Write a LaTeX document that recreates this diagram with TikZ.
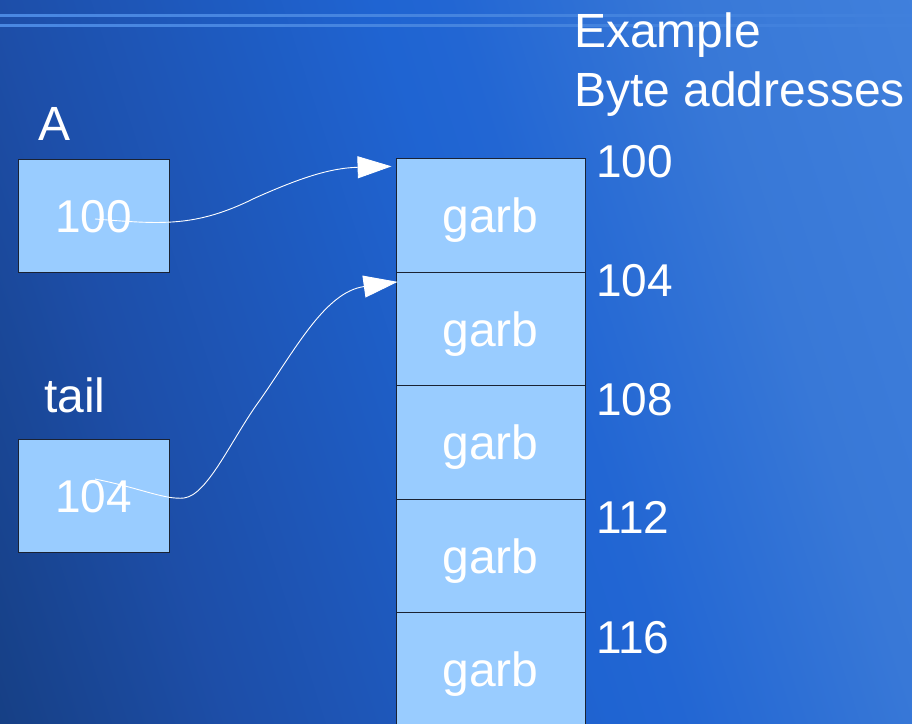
\documentclass[tikz,border=0pt]{standalone}
\usepackage{fontspec}
\setmainfont{Liberation Sans}
\usetikzlibrary{arrows.meta}

\definecolor{cellfill}{HTML}{99CCFF}
\definecolor{cellline}{HTML}{1A2233}
\definecolor{bgDark}{HTML}{163F84}
\definecolor{bgDeep}{HTML}{1D4EA8}
\definecolor{bgMid}{HTML}{1F64D2}
\definecolor{bgMidB}{HTML}{2266D3}
\definecolor{bgPale}{HTML}{3878D7}
\definecolor{bgLight}{HTML}{4080DC}
\definecolor{rule}{HTML}{4A88E2}

% background gradient stops along the slide diagonal
\pgfdeclarehorizontalshading{slidebg}{100bp}{%
  color(0bp)=(bgDark); color(25bp)=(bgDark); color(35bp)=(bgDeep);
  color(51bp)=(bgMid); color(54bp)=(bgMidB); color(64bp)=(bgPale);
  color(74bp)=(bgLight); color(100bp)=(bgLight)}

\tikzset{
  bigtext/.style={font=\fontsize{46}{50}\selectfont, text=white},
  wordtext/.style={font=\fontsize{48}{52}\selectfont, text=white},
  label/.style={bigtext, inner sep=0pt, anchor=base west},
  heading/.style={wordtext, inner sep=0pt, anchor=base west},
  wordbox/.style={draw=cellline, line width=0.8pt, fill=cellfill, bigtext,
    minimum width=151pt, minimum height=113pt, inner sep=0pt,
    text height=33pt, text depth=0pt},
  cell/.style={draw=cellline, line width=0.8pt, fill=cellfill, wordtext,
    minimum width=189pt, minimum height=113.5pt, inner sep=0pt,
    text height=34.5pt, text depth=0pt},
  pointer/.style={white, line width=0.9pt,
    -{Triangle[length=34pt, width=22pt, fill=white]}},
}

\begin{document}
\begin{tikzpicture}[x=1pt, y=-1pt]
  \useasboundingbox (0,0) rectangle (912,723);
  \clip (0,0) rectangle (912,723);

  % slide background: diagonal gradient, dark lower left to light upper right
  \begin{scope}[transform canvas={rotate=18}]
    \shade[shading=slidebg] (-230,-10) rectangle (900,980);
  \end{scope}
  \shade[left color=rule, right color=bgLight] (0,14) rectangle (912,16.5);
  \shade[left color=rule, right color=bgLight] (0,24) rectangle (912,26.5);

  % headings
  \node[heading] (ttl1) at (574,47) {Example};
  \node[heading] (ttl2) at (574,106) {Byte addresses};

  % variables
  \node[heading] (lblA) at (38,140) {A};
  \node[heading] (lblT) at (44,412) {tail};
  \node[wordbox] (A) at (93.5,215.5) {100};
  \node[wordbox] (T) at (93.5,495.5) {104};

  % memory cells
  \node[cell] (c1) at (490.5,215.5) {garb};
  \node[cell] (c2) at (490.5,329) {garb};
  \node[cell] (c3) at (490.5,442.5) {garb};
  \node[cell] (c4) at (490.5,556) {garb};
  \node[cell] (c5) at (490.5,669.5) {garb};

  % addresses
  \node[label] (a1) at (596,177) {100};
  \node[label] (a2) at (596,296) {104};
  \node[label] (a3) at (596,415) {108};
  \node[label] (a4) at (596,533) {112};
  \node[label] (a5) at (596,653) {116};

  % pointer targets
  \coordinate (t1) at ([xshift=-4pt, yshift=-8pt]c1.north west);
  \coordinate (t2) at ([xshift=2pt, yshift=-10pt]c2.north west);

  % pointers
  \draw[pointer] ([xshift=1.5pt, yshift=-3.5pt]A.center)
    .. controls (160,224) and (195,228) .. (255,198)
    .. controls (300,178) and (330,168) .. (t1);
  \draw[pointer] ([xshift=1.5pt, yshift=16.5pt]T.center)
    .. controls (140,488) and (165,500) .. (184,498)
    .. controls (208,495) and (232,438) .. (260,400)
    .. controls (295,350) and (325,292) .. (t2);
\end{tikzpicture}
\end{document}
